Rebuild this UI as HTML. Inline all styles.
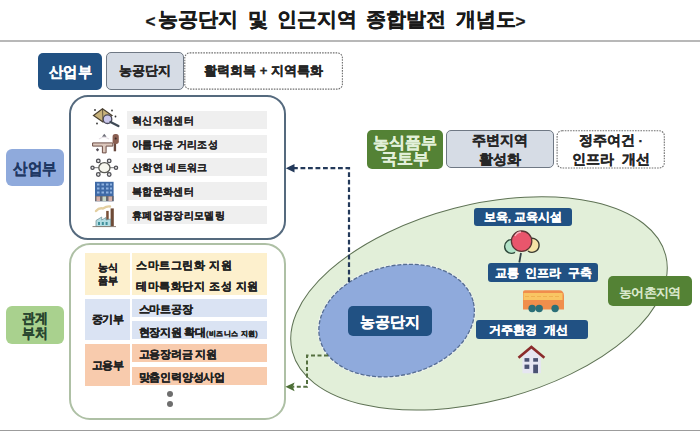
<!DOCTYPE html>
<html><head><meta charset="utf-8">
<style>
*{margin:0;padding:0;box-sizing:border-box}
html,body{width:700px;height:440px;overflow:hidden;background:#fff}
body{position:relative;font-family:"Liberation Sans",sans-serif;font-weight:bold;color:#262626;-webkit-text-stroke:0.3px currentColor}
.a{position:absolute}
.c{position:absolute;display:flex;align-items:center;justify-content:center;text-align:center;white-space:nowrap}
.title{left:0;top:6px;width:700px;text-align:center;font-size:20.1px;color:#1a1a1a;white-space:pre;margin-left:-14px;word-spacing:-0.95px}
.hl{left:0;width:700px;height:2px;background:#c8c8c8}
.navy{background:#215183;color:#fff;border-radius:5px}
.bar{position:absolute;left:127px;width:140px;height:18px;background:#efefef;font-size:10px;line-height:19.5px;padding-left:5px;letter-spacing:0.35px;white-space:pre;color:#222;-webkit-text-stroke:0.15px #222}
.cell{position:absolute;font-size:10.5px;letter-spacing:0.4px;white-space:pre;color:#222}
svg{position:absolute;left:0;top:0}
</style></head><body>
<div class="a title"><span style="font-size:17px;margin-right:2px;position:relative;top:1px;left:-1px">&lt;</span>농공단지  및  인근지역  종합발전  개념도<span style="font-size:17px;margin-left:0px;position:relative;top:1px">&gt;</span></div>
<div class="a hl" style="top:40px;height:1.6px;background:#b8b8b8"></div>
<div class="a hl" style="top:429.6px;height:1.2px;background:#9c9c9c"></div>

<svg width="700" height="440" viewBox="0 0 700 440" style="position:absolute;left:0;top:0">
  <rect x="184.8" y="52.9" width="157.6" height="36.2" rx="5" fill="#fff" stroke="#707070" stroke-width="1.1" stroke-dasharray="1.6 1.1"/>
  <rect x="557.1" y="130.7" width="107.2" height="37.3" rx="5" fill="#fff" stroke="#707070" stroke-width="1.1" stroke-dasharray="1.6 1.1"/>
</svg>
<!-- top row -->
<div class="c navy" style="left:38px;top:52.8px;width:64px;height:37.7px;font-size:15.3px;padding-top:1.5px"><span style="display:inline-block;transform:scaleX(0.95)">산업부</span></div>
<div class="c" style="left:106px;top:52px;width:78px;height:38px;background:#d6dce5;border:1.3px solid #6f7884;border-radius:5px;font-size:13px">농공단지</div>
<div class="c" style="left:184px;top:52px;width:159px;height:37.5px;border-radius:5px;font-size:13px;white-space:pre">활력회복 + 지역특화</div>

<!-- left labels -->
<div class="c" style="left:6px;top:149px;width:58px;height:37px;background:#8faadc;border-radius:6px;font-size:15.5px;color:#1f3864;padding-top:3px"><span style="display:inline-block;transform:scaleX(0.9)">산업부</span></div>
<div class="c" style="left:6px;top:306px;width:58px;height:38px;background:#a9d18e;border-radius:6px;font-size:14px;line-height:15px;color:#28452f;white-space:normal;padding-top:1px"><span style="display:inline-block;transform:scaleX(0.92)">관계<br>부처</span></div>

<!-- panel 1 -->
<div class="a" style="left:69.2px;top:95.1px;width:216.6px;height:145.2px;border:2.6px solid #556a7e;border-radius:19px"></div>
<div class="bar" style="top:111px">혁신지원센터</div>
<div class="bar" style="top:134.5px">아름다운 거리조성</div>
<div class="bar" style="top:158px">산학연 네트워크</div>
<div class="bar" style="top:182px">복합문화센터</div>
<div class="bar" style="top:205.5px">휴폐업공장리모델링</div>

<!-- panel 2 -->
<div class="a" style="left:69.2px;top:243.4px;width:216.6px;height:177px;border:2.6px solid #aec0a5;border-radius:21px"></div>
<div class="c cell" style="left:85px;top:253px;width:45px;height:42px;background:#fdf0cd;line-height:12.5px;font-size:10px;letter-spacing:0;padding-top:1px">농식<br>품부</div>
<div class="cell" style="left:132px;top:253px;width:135px;height:21.5px;background:#fdf0cd;line-height:24px;padding-left:4px;letter-spacing:0.6px">스마트그린화 지원</div>
<div class="cell" style="left:132px;top:275px;width:135px;height:20px;background:#fdf0cd;line-height:22px;padding-left:4px;letter-spacing:0.6px">테마특화단지 조성 지원</div>

<div class="c cell" style="left:85px;top:298.5px;width:45px;height:41px;background:#dae3f3;font-size:11px;letter-spacing:-0.4px;padding-top:1px">중기부</div>
<div class="cell" style="left:132px;top:298.5px;width:135px;height:18.3px;background:#dae3f3;line-height:21px;padding-left:6.5px;font-size:10.8px;letter-spacing:-0.2px">스마트공장</div>
<div class="cell" style="left:132px;top:320.8px;width:135px;height:18.7px;background:#dae3f3;line-height:22px;padding-left:6.5px;font-size:10.8px;letter-spacing:-0.2px">현장지원 확대<span style="font-size:7.3px;letter-spacing:0.35px">(비즈니스 지원)</span></div>

<div class="c cell" style="left:85px;top:344px;width:45px;height:41.5px;background:#f8cbad;font-size:11px;letter-spacing:-0.4px;padding-top:1px">고용부</div>
<div class="cell" style="left:132px;top:344px;width:135px;height:18.3px;background:#f8cbad;line-height:21px;padding-left:6.5px;font-size:10.8px;letter-spacing:-0.2px">고용장려금 지원</div>
<div class="cell" style="left:132px;top:367.3px;width:135px;height:18.2px;background:#f8cbad;line-height:21px;padding-left:6.5px;font-size:10.8px;letter-spacing:-0.2px">맞춤인력양성사업</div>
<div class="a" style="left:166.6px;top:391px;width:6px;height:6px;border-radius:50%;background:#6e6e6e"></div>
<div class="a" style="left:166.6px;top:401.4px;width:6px;height:6px;border-radius:50%;background:#6e6e6e"></div>

<!-- right graphics -->
<svg width="700" height="440" viewBox="0 0 700 440">
  <ellipse cx="479" cy="303.4" rx="192.8" ry="98.3" transform="rotate(-14.5 479 303.4)" fill="#e2efd9" stroke="#5e7254" stroke-width="1"/>
  <ellipse cx="396.6" cy="320.6" rx="79.3" ry="55.1" transform="rotate(-13.5 396.6 320.6)" fill="none" stroke="#eef3ee" stroke-width="1.6"/>
  <ellipse cx="396.6" cy="320.6" rx="78.9" ry="54.7" transform="rotate(-13.5 396.6 320.6)" fill="#8faadc" stroke="#556d92" stroke-width="1.3" stroke-dasharray="4 1.8"/>
  <!-- navy dashed arrow -->
  <path d="M349 282 V168.2 H294" fill="none" stroke="#23395a" stroke-width="2.2" stroke-dasharray="4.8 2.7"/>
  <path d="M285.8 168.2 L294.5 163.9 L294.5 172.5 Z" fill="#23395a"/>
  <!-- green dashed arrow -->
  <path d="M328 355.5 H307 V386.8 H293" fill="none" stroke="#557040" stroke-width="2" stroke-dasharray="4 2.5"/>
  <path d="M285.4 386.8 L294.6 382.6 L292.8 386.8 L294.6 391.2 Z" fill="#4c6e35"/>
</svg>


<svg width="700" height="440" viewBox="0 0 700 440">
  <!-- balloons -->
  <circle cx="511.5" cy="246.5" r="6.8" fill="#b2e3c8"/>
  <path d="M513.5 240 A6.8 6.8 0 1 0 515 252.3" fill="none" stroke="#2f4a3c" stroke-width="1.4"/>
  <circle cx="532" cy="245.3" r="7" fill="#f6e3a6"/>
  <path d="M529.5 238.8 A7 7 0 1 1 528 251" fill="none" stroke="#3a3a30" stroke-width="1.4"/>
  <path d="M521 253 L519.3 262.5" stroke="#33444a" stroke-width="1.8" fill="none"/>
  <circle cx="521.6" cy="241.2" r="10.2" fill="#e9566c" stroke="#5a3434" stroke-width="1.3"/>
  <path d="M515 236 Q517 232 521 232" stroke="#f7b3bd" stroke-width="1.3" fill="none"/>
  <!-- bus -->
  <path d="M523 292 Q523 290.3 525 290.3 L559 290.3 Q564 290.3 564 296 L564 309.6 L523 309.6 Z" fill="#f08e4c"/>
  <rect x="523.5" y="293" width="39" height="7" fill="#f9c563"/>
  <path d="M525 296.5 H560" stroke="#f0b050" stroke-width="1" stroke-dasharray="4 2"/>
  <circle cx="532.1" cy="308.5" r="3.7" fill="#2b6f78"/>
  <circle cx="539.2" cy="308.5" r="3.7" fill="#2b6f78"/>
  <circle cx="555.1" cy="308.5" r="3.7" fill="#2b6f78"/>
  <!-- house -->
  <path d="M522.4 356 L531.4 348.5 L540.9 356 V373.2 H522.4 Z" fill="#e6e6f2"/>
  <path d="M518.5 357.7 L531.4 346.9 L544.4 357.7" fill="none" stroke="#8b2b2b" stroke-width="2.6" stroke-linejoin="miter"/>
  <rect x="524.5" y="358.1" width="4.8" height="3.6" fill="#4a5273"/>
  <rect x="533.2" y="358.1" width="4.8" height="3.6" fill="#4a5273"/>
  <rect x="524.5" y="364.6" width="4.8" height="4.3" fill="#4a5273"/>
  <rect x="533.2" y="364.6" width="4.8" height="8.6" fill="#4a5273"/>
  <!-- icon1: diamond + magnifier -->
  <path d="M93.5 115.5 L102.5 108.8 L112 115.5 L103 122 Z" fill="#c8b27a" stroke="#4a4030" stroke-width="1.2"/>
  <path d="M102.5 108.8 L103 122" stroke="#4a4030" stroke-width="0.8"/>
  <circle cx="107.5" cy="119.2" r="4.3" fill="#c9c6ea" stroke="#4a4a5a" stroke-width="1.3"/>
  <path d="M110.5 122 L118.4 126" stroke="#3f4a56" stroke-width="2.4" stroke-linecap="round"/>
  <circle cx="95" cy="110" r="0.9" fill="#333"/><circle cx="112" cy="110.5" r="0.9" fill="#333"/><circle cx="97" cy="123.5" r="0.9" fill="#333"/><circle cx="115.5" cy="116.5" r="0.9" fill="#333"/>
  <!-- icon2: pipes -->
  <path d="M92.6 142.9 H112.8 V146.1 H106.1 V152.9 H102.4 V146.1 H92.6 Z" fill="#dcc8bd" stroke="#6e4f47" stroke-width="1"/>
  <path d="M114.9 143 V151.3" stroke="#6a4a40" stroke-width="2.4"/>
  <rect x="112.6" y="134.1" width="6.2" height="9.8" rx="2.6" fill="#8a5f52"/>
  <circle cx="115.7" cy="138.5" r="1" fill="#3a2a28"/>
  <path d="M104.3 133.8 L102 136.8 H106.6 Z" fill="#6e6e78"/>
  <path d="M99 139 Q104 135.5 109 139" fill="none" stroke="#e6e0e6" stroke-width="1.2"/>
  <path d="M97.5 148 L95.8 149.8 L97.5 151.6 L99.2 149.8 Z" fill="#55505a"/>
  <!-- icon3: network -->
  <g stroke="#666" stroke-width="0.9"><path d="M104.4 167.7 L98.3 160.9 M104.4 167.7 L109.2 160.9 M104.4 167.7 L92.5 167.7 M104.4 167.7 L116 167.7 M104.4 167.7 L98.3 174.5 M104.4 167.7 L109.2 174.5"/></g>
  <g fill="#e8e8e8" stroke="#4f4f55" stroke-width="1.3"><circle cx="98.3" cy="160.9" r="1.8"/><circle cx="109.2" cy="160.9" r="1.8"/><circle cx="92.5" cy="167.7" r="1.6"/><circle cx="116" cy="167.7" r="1.6"/><circle cx="98.3" cy="174.5" r="1.8"/><circle cx="109.2" cy="174.5" r="1.8"/></g>
  <ellipse cx="104.4" cy="167.7" rx="5.6" ry="5" fill="#f6f6ee" stroke="#5a5a55" stroke-width="1.3"/>
  <!-- icon4: building -->
  <rect x="95" y="181.8" width="18.6" height="19.4" fill="#3f6aa6"/>
  <g fill="#8fb2e0"><rect x="97" y="183.5" width="2.5" height="2"/><rect x="101.5" y="183.5" width="2.5" height="2"/><rect x="106" y="183.5" width="2.5" height="2"/><rect x="110" y="183.5" width="2" height="2"/>
  <rect x="97" y="187.5" width="2.5" height="2"/><rect x="101.5" y="187.5" width="2.5" height="2"/><rect x="106" y="187.5" width="2.5" height="2"/><rect x="110" y="187.5" width="2" height="2"/>
  <rect x="97" y="191.5" width="2.5" height="2"/><rect x="101.5" y="191.5" width="2.5" height="2"/><rect x="106" y="191.5" width="2.5" height="2"/><rect x="110" y="191.5" width="2" height="2"/></g>
  <rect x="95" y="196" width="18.6" height="5.2" fill="#6a6a70"/>
  <rect x="96.5" y="196.5" width="3.5" height="4.7" fill="#d6b0a8"/><rect x="102.5" y="196.5" width="3.5" height="4.7" fill="#c8d8c8"/><rect x="108.5" y="196.5" width="3.5" height="4.7" fill="#d6b0a8"/>
  <!-- icon5: factory -->
  <path d="M96 211 Q99 207.5 103 208.5 Q107 206 110 206.5" stroke="#e3cfa0" stroke-width="2.4" fill="none" stroke-linecap="round"/>
  <rect x="106.2" y="210.9" width="2.5" height="10" fill="#7a5038"/>
  <rect x="110.6" y="208.4" width="3.2" height="18.1" fill="#6e4a36"/>
  <path d="M96 226.5 V220.5 L101.7 217 V220 L106 217.5 V220 L110.6 219 V226.5 Z" fill="#b3dde3" stroke="#6a8a90" stroke-width="0.7"/>
  <g fill="#3f8f9a"><rect x="98" y="222" width="2" height="3"/><rect x="101.8" y="222" width="2" height="3"/><rect x="105.6" y="222" width="2" height="3"/></g>
  <path d="M92.5 226.6 H116" stroke="#8a8078" stroke-width="1"/>
</svg>

<!-- right boxes -->
<div class="c" style="left:367px;top:130px;width:76px;height:39px;background:#548235;border-radius:5px;color:#e2f0d9;font-size:15.5px;line-height:16px;white-space:normal;padding-top:2px">농식품부<br>국토부</div>
<div class="c" style="left:446px;top:130.2px;width:108px;height:38.2px;background:#d6dce5;border:1.3px solid #6f7884;border-radius:5px;font-size:13.5px;line-height:18.5px;white-space:normal;padding-top:3px">주변지역<br>활성화</div>
<div class="c" style="left:557px;top:130.2px;width:108px;height:38.2px;border-radius:5px;font-size:13.5px;line-height:18.5px;white-space:pre;padding-top:3px">정주여건 ·
인프라  개선</div>

<div class="c navy" style="left:348px;top:306px;width:84px;height:29.5px;font-size:15px;padding-top:2.5px">농공단지</div>
<div class="c navy" style="left:474px;top:208px;width:98px;height:18px;font-size:11.8px;letter-spacing:0px;border-radius:3px;white-space:pre;padding-top:2px">보육, 교육시설</div>
<div class="c navy" style="left:488px;top:263px;width:110px;height:19px;font-size:11.5px;border-radius:3px;white-space:pre;padding-top:1px;padding-left:1px">교통  인프라  구축</div>
<div class="c navy" style="left:475.5px;top:320.2px;width:112px;height:19.3px;font-size:11.5px;border-radius:3px;white-space:pre;justify-content:flex-start;padding-left:13px;padding-top:1.5px;letter-spacing:0.2px">거주환경  개선</div>
<div class="c" style="left:608px;top:276px;width:83.5px;height:29.7px;background:#548235;border-radius:5px;color:#e2f0d9;font-size:13px;letter-spacing:-0.6px;font-weight:normal;-webkit-text-stroke:0.45px #e2f0d9;padding-top:3.5px">농어촌지역</div>

</body></html>
